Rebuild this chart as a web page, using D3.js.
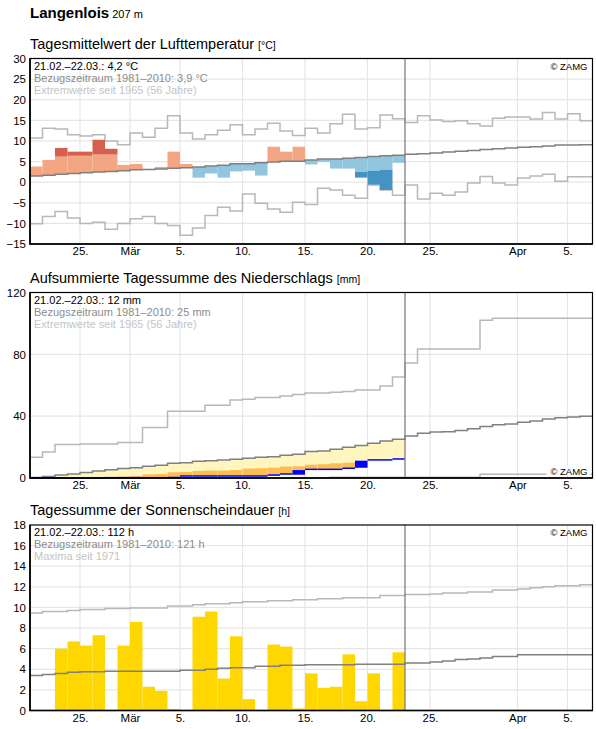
<!DOCTYPE html>
<html>
<head>
<meta charset="utf-8">
<script src="https://cdn.jsdelivr.net/npm/d3@7"></script>
<style>
  body { margin: 0; background: #fff; }
  svg text { font-family: 'Liberation Sans', Arial, sans-serif; }
</style>
</head>
<body>
<div id="chart"></div>
<script>
// Zeitraum: 21.02. bis 06.04. (45 Tage), davon 30 Tage gemessen
const startDay = new Date(Date.UTC(2021, 1, 21))
const dayCount = 45
const tickDates = [
  Date.UTC(2021, 1, 25), Date.UTC(2021, 2, 1), Date.UTC(2021, 2, 5), Date.UTC(2021, 2, 10),
  Date.UTC(2021, 2, 15), Date.UTC(2021, 2, 20), Date.UTC(2021, 2, 25), Date.UTC(2021, 3, 1),
  Date.UTC(2021, 3, 5)
]
const tickLabels = ['25.', 'Mär', '5.', '10.', '15.', '20.', '25.', 'Apr', '5.']

// Lufttemperatur (°C)
const tempObs = [3.8, 5.4, 8.3, 7.4, 7.4, 10.3, 8.1, 4.2, 4.4, 3.2, 3.7, 7.4, 4.4, 1.1, 2.1,
  1.1, 2.6, 2.8, 1.6, 8.6, 7.4, 8.6, 4.3, 4.9, 3.3, 3.3, 1.1, -0.6, -1.9, 4.7]
const tempDark = [null, null, 6.2, 6.4, 6.4, 6.7, 6.7, null, null, null, null, null, null, null, null,
  null, null, null, null, null, null, null, null, null, null, null, 2.5, 2.75, 3.0, null]
const tempClim = [1.5, 1.7, 1.9, 2.1, 2.3, 2.45, 2.6, 2.75, 3.0, 3.1, 3.2, 3.4, 3.5, 3.65, 3.9,
  4.1, 4.45, 4.45, 4.7, 4.9, 5.1, 5.1, 5.35, 5.6, 5.6, 5.8, 6.0, 6.2, 6.4, 6.55,
  6.8, 6.9, 7.1, 7.3, 7.5, 7.7, 7.9, 8.1, 8.3, 8.5, 8.6, 8.8, 9.0, 9.0, 9.1]
const tempMax = [10.7, 13.1, 12.9, 11.5, 11.2, 11.5, 10.0, 9.1, 11.9, 10.9, 13.1, 16.1, 11.9, 10.5, 11.5,
  12.6, 13.9, 11.5, 12.9, 14.3, 12.4, 11.3, 13.1, 11.9, 14.2, 16.5, 12.9, 13.2, 16.3, 15.4,
  14.5, 16.1, 15.1, 14.7, 14.9, 14.2, 13.6, 15.5, 15.8, 15.8, 15.3, 16.9, 15.3, 16.6, 14.9]
const tempMin = [-10.1, -8.3, -7.1, -8.7, -10.0, -9.7, -11.4, -10.0, -8.9, -8.3, -10.0, -10.5, -12.9, -11.1, -8.1,
  -6.1, -7.0, -2.9, -5.1, -6.5, -7.3, -4.9, -5.4, -1.5, -1.9, -3.2, -3.9, -0.7, -1.9, -3.2,
  -0.7, -4.1, -2.7, -3.2, -2.4, -0.2, 1.4, -0.2, -0.7, 1.0, 1.5, 1.9, 0.2, 1.3, 1.3]

// Niederschlag (mm), Tagessummen und aufsummierte Vergleichswerte
const precipObs = [0, 0, 0, 0, 0, 0.2, 0, 0, 0, 0, 0, 1.1, 0, 0, 0,
  0, 0, 0, 0.6, 0.7, 0, 3.0, 0, 0, 0.7, 0.8, 4.6, 0, 0.6, 0]
const precipLow = [0, 0.1, 0.2, 0.3, 0.4, 0.5, 0.7, 1.0, 1.3, 2.4, 2.6, 3.7, 3.9, 4.6, 4.8,
  4.8, 5.2, 6.1, 6.3, 6.7, 7.4, 7.6, 8.6, 8.9, 9.5, 9.9, 10.4, 10.9, 11.3, 11.8]
const precipClim = [0.3, 0.9, 2.0, 2.6, 3.5, 4.5, 5.4, 6.1, 6.7, 7.6, 8.2, 9.5, 9.9, 10.8, 11.2,
  11.7, 12.1, 12.7, 13.4, 13.8, 14.7, 15.4, 17.1, 17.5, 18.6, 19.9, 21.0, 22.5, 24.0, 25.1,
  27.2, 29.0, 29.8, 29.9, 30.7, 31.8, 33.3, 34.4, 35.0, 36.1, 36.8, 38.1, 38.9, 39.4, 40.0]
const precipMax = [13.4, 16.9, 21.6, 21.6, 22.0, 22.0, 22.0, 22.9, 22.9, 32.6, 32.6, 43.2, 43.2, 43.2, 47.1,
  47.1, 50.5, 51.0, 52.0, 52.0, 53.0, 54.0, 55.0, 55.0, 55.5, 56.0, 57.0, 57.0, 59.5, 65.3,
  74.4, 83.5, 83.5, 83.5, 83.5, 83.5, 102.0, 103.3, 103.3, 103.3, 103.3, 103.3, 103.3, 103.3, 103.3]
const precipMin = [0, 0, 0, 0, 0, 0, 0, 0, 0, 0, 0, 0, 0, 0, 0,
  0, 0, 0, 0, 0, 0, 0, 0, 0, 0.5, 0.5, 0.5, 0.5, 0.5, 0.5,
  0.5, 0.5, 0.5, 0.5, 0.5, 0.5, 2.4, 2.4, 2.4, 2.4, 2.4, 2.4, 2.4, 2.4, 2.4]

// Sonnenscheindauer (h)
const sunObs = [0, 0, 6.0, 6.7, 6.3, 7.3, 0, 6.3, 8.6, 2.3, 1.9, 0.15, 0, 9.1, 9.6,
  3.1, 7.2, 1.1, 0, 6.4, 6.2, 0.2, 3.6, 2.2, 2.3, 5.45, 0.9, 3.6, 0, 5.65]
const sunClim = [3.4, 3.5, 3.6, 3.7, 3.75, 3.75, 3.8, 3.8, 3.8, 3.8, 3.8, 3.8, 3.9, 3.9, 4.0,
  4.1, 4.15, 4.15, 4.3, 4.3, 4.4, 4.4, 4.45, 4.45, 4.45, 4.45, 4.5, 4.5, 4.5, 4.5,
  4.6, 4.6, 4.7, 4.8, 4.95, 5.0, 5.1, 5.25, 5.25, 5.4, 5.4, 5.4, 5.4, 5.4, 5.4]
const sunMax = [9.45, 9.6, 9.6, 9.7, 9.8, 9.8, 9.9, 9.9, 9.95, 9.95, 9.95, 10.15, 10.15, 10.25, 10.35,
  10.35, 10.45, 10.55, 10.55, 10.65, 10.65, 10.75, 10.75, 10.85, 10.85, 10.95, 10.95, 10.95, 11.15, 11.15,
  11.25, 11.25, 11.3, 11.4, 11.4, 11.5, 11.5, 11.7, 11.7, 11.8, 11.9, 12.0, 12.1, 12.1, 12.2]

const width = 596
const height = 729
const left = 30
const right = 592.5
const panelH = 185.5

const day = i => d3.utcDay.offset(startDay, i)
const x = d3.scaleUtc()
  .domain([startDay, day(dayCount)])
  .range([left, right])
const nowX = x(day(tempObs.length))

const svg = d3.select('#chart')
  .append('svg')
  .attr('width', width)
  .attr('height', height)

// Kopfzeile
const head = svg.append('text')
  .attr('x', left)
  .attr('y', 18)
head.append('tspan')
  .style('font-size', '15px')
  .style('font-weight', 'bold')
  .text('Langenlois')
head.append('tspan')
  .style('font-size', '11px')
  .text(' 207 m')

function stepPath (values, y) {
  const pts = values.map((v, i) => [x(day(i)), y(v)])
  pts.push([x(day(values.length)), y(values[values.length - 1])])
  return d3.line().curve(d3.curveStepAfter)(pts)
}

function panel (top, domain, ticks, grid, title, unit, info, zamgBottom) {
  const y = d3.scaleLinear()
    .domain(domain)
    .range([top + panelH, top])
  const g = svg.append('g')

  const t = g.append('text')
    .attr('x', left)
    .attr('y', top - 10)
  t.append('tspan').style('font-size', '14.5px').text(title + ' ')
  t.append('tspan').style('font-size', '10.5px').text(unit)

  // Gitter
  g.append('g')
    .selectAll('line')
    .data(grid)
    .enter()
    .append('line')
    .attr('x1', left)
    .attr('x2', right)
    .attr('y1', d => y(d))
    .attr('y2', d => y(d))
    .style('stroke', '#e6e6e6')
    .style('stroke-width', 1.2)
  g.append('g')
    .selectAll('line')
    .data(tickDates)
    .enter()
    .append('line')
    .attr('x1', d => x(d))
    .attr('x2', d => x(d))
    .attr('y1', top)
    .attr('y2', top + panelH)
    .style('stroke', '#e6e6e6')
    .style('stroke-width', 1.2)

  // Achsen
  const ya = g.append('g')
    .attr('transform', `translate(${left},0)`)
    .call(d3.axisLeft(y).tickValues(ticks).tickSize(0).tickPadding(4))
  ya.select('.domain').remove()
  ya.selectAll('text')
    .style('font-size', '11.5px')
    .style('font-family', "'Liberation Sans', Arial, sans-serif")
    .attr('fill', '#000')
  const xa = g.append('g')
    .attr('transform', `translate(0,${top + panelH})`)
    .call(d3.axisBottom(x).tickValues(tickDates).tickSize(0).tickPadding(3)
      .tickFormat((d, i) => tickLabels[i]))
  xa.select('.domain').remove()
  xa.selectAll('text')
    .style('font-size', '11.5px')
    .style('font-family', "'Liberation Sans', Arial, sans-serif")
    .attr('fill', '#000')

  const plot = g.append('g')
  const over = g.append('g')

  over.append('line')
    .attr('x1', nowX)
    .attr('x2', nowX)
    .attr('y1', top)
    .attr('y2', top + panelH)
    .style('stroke', '#808080')
    .style('stroke-width', 1.3)
  over.append('rect')
    .attr('x', left)
    .attr('y', top)
    .attr('width', right - left)
    .attr('height', panelH)
    .style('fill', 'none')
    .style('stroke', '#000')
    .style('stroke-width', 1.2)
  over.append('path')
    .attr('d', `M${left},${top}V${top + panelH}H${right}`)
    .style('fill', 'none')
    .style('stroke', '#000')
    .style('stroke-width', 1.6)

  const infoColors = ['#000', '#8c8c8c', '#c4c4c4']
  info.forEach((s, i) => {
    over.append('text')
      .attr('x', left + 4)
      .attr('y', top + 11 + i * 12)
      .style('font-size', '11px')
      .style('fill', infoColors[i])
      .text(s)
  })

  const zy = zamgBottom ? top + panelH - 3 : top + 11
  if (zamgBottom) {
    over.append('rect')
      .attr('x', right - 46)
      .attr('y', zy - 9)
      .attr('width', 44)
      .attr('height', 10)
      .style('fill', '#fff')
  }
  over.append('text')
    .attr('x', right - 5)
    .attr('y', zy)
    .attr('text-anchor', 'end')
    .style('font-size', '9.5px')
    .text('© ZAMG')

  return { plot, y }
}

function lineOn (plot, values, y, color, w) {
  plot.append('path')
    .attr('d', stepPath(values, y))
    .style('fill', 'none')
    .style('stroke', color)
    .style('stroke-width', w)
}

// Panel 1: Temperatur
{
  const { plot, y } = panel(58.5, [-15, 30], d3.range(-15, 31, 5), d3.range(-10, 30, 5),
    'Tagesmittelwert der Lufttemperatur', '[°C]',
    ['21.02.–22.03.: 4,2 °C', 'Bezugszeitraum 1981–2010: 3,9 °C', 'Extremwerte seit 1965 (56 Jahre)'])
  lineOn(plot, tempMax, y, '#b8b8b8', 1.5)
  lineOn(plot, tempMin, y, '#b8b8b8', 1.5)
  tempObs.forEach((v, i) => {
    const c = tempClim[i]
    const d = tempDark[i]
    const warm = v >= c
    const mid = d === null ? v : d
    const x0 = x(day(i))
    const w = x(day(i + 1)) - x0
    plot.append('rect')
      .attr('x', x0)
      .attr('width', w)
      .attr('y', y(Math.max(c, mid)))
      .attr('height', Math.abs(y(c) - y(mid)))
      .style('fill', warm ? '#f4a582' : '#92c5de')
    if (d !== null) {
      plot.append('rect')
        .attr('x', x0)
        .attr('width', w)
        .attr('y', y(Math.max(d, v)))
        .attr('height', Math.abs(y(d) - y(v)))
        .style('fill', warm ? '#d6604d' : '#4393c3')
    }
  })
  lineOn(plot, tempClim, y, '#808080', 1.5)
}

// Panel 2: Niederschlag
{
  const { plot, y } = panel(292.5, [0, 120], [0, 40, 80, 120], [40, 80],
    'Aufsummierte Tagessumme des Niederschlags', '[mm]',
    ['21.02.–22.03.: 12 mm', 'Bezugszeitraum 1981–2010: 25 mm', 'Extremwerte seit 1965 (56 Jahre)'], true)
  lineOn(plot, precipMax, y, '#b8b8b8', 1.5)
  lineOn(plot, precipMin, y, '#b8b8b8', 1.5)
  const cum = Array.from(d3.cumsum(precipObs))
  precipObs.forEach((v, i) => {
    const prev = i ? cum[i - 1] : 0
    const x0 = x(day(i))
    const w = x(day(i + 1)) - x0
    const c = precipClim[i]
    plot.append('rect')
      .attr('x', x0)
      .attr('width', w)
      .attr('y', y(Math.max(c, prev)))
      .attr('height', Math.abs(y(prev) - y(c)))
      .style('fill', '#fff5be')
    if (precipLow[i] > prev) {
      plot.append('rect')
        .attr('x', x0)
        .attr('width', w)
        .attr('y', y(precipLow[i]))
        .attr('height', y(prev) - y(precipLow[i]))
        .style('fill', '#fdbd52')
    }
  })
  lineOn(plot, precipClim, y, '#808080', 1.5)
  precipObs.forEach((v, i) => {
    const prev = i ? cum[i - 1] : 0
    const x0 = x(day(i))
    const h = Math.max(1.5, y(prev) - y(cum[i]))
    plot.append('rect')
      .attr('x', x0)
      .attr('width', x(day(i + 1)) - x0)
      .attr('y', y(prev) + 0.75 - h)
      .attr('height', h)
      .style('fill', '#0000ff')
  })
}

// Panel 3: Sonnenschein
{
  const { plot, y } = panel(525, [0, 18], d3.range(0, 19, 2), d3.range(2, 18, 2),
    'Tagessumme der Sonnenscheindauer', '[h]',
    ['21.02.–22.03.: 112 h', 'Bezugszeitraum 1981–2010: 121 h', 'Maxima seit 1971'])
  plot.append('g')
    .selectAll('rect')
    .data(sunObs)
    .enter()
    .append('rect')
    .attr('x', (d, i) => x(day(i)))
    .attr('width', (d, i) => x(day(i + 1)) - x(day(i)))
    .attr('y', d => y(d))
    .attr('height', d => y(0) - y(d))
    .style('fill', '#ffd700')
  lineOn(plot, sunMax, y, '#b8b8b8', 1.5)
  lineOn(plot, sunClim, y, '#808080', 1.5)
}
</script>
</body>
</html>
